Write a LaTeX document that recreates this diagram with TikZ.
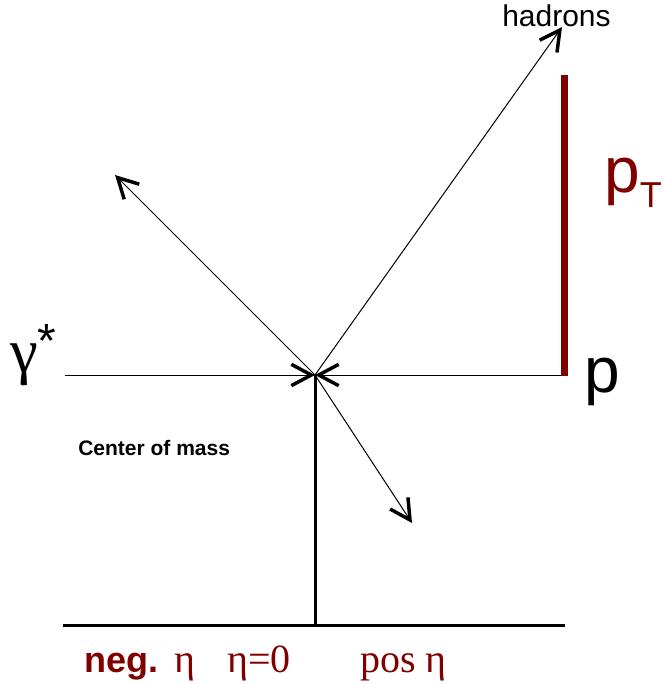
\documentclass[tikz,border=0pt]{standalone}
\usepackage{fontspec}
\setmainfont{Liberation Sans}
\newfontfamily\timesfont{Liberation Serif}
\usetikzlibrary{arrows.meta}
\definecolor{darkred}{RGB}{128,0,0}

\begin{document}
\begin{tikzpicture}[
    x=0.75pt, y=-0.75pt,
    thick line/.style={line width=2.25pt},
    arr/.style={-{Straight Barb[length=15pt,width=16pt,line width=2.6pt]}, line width=0.75pt},
    lbl/.style={inner sep=0pt, anchor=base west},
    bottom/.style={lbl, text=darkred, font=\timesfont\fontsize{30}{30}\selectfont}
  ]
  \useasboundingbox (0,0) rectangle (664,684);

  % ===== points =====
  \coordinate (c)     at (315,375);
  \coordinate (left)  at (65,375);
  \coordinate (right) at (562,375);
  \coordinate (had)   at (562,27);
  \coordinate (ul)    at (115,175);
  \coordinate (lr)    at (412,523);
  \coordinate (foot)  at (315,625);
  \coordinate (bl)    at (63,625);
  \coordinate (br)    at (565,625);
  \coordinate (bartop) at (564,75);
  \coordinate (barbot) at (564,376);

  % ===== labels =====
  \node[lbl, font=\fontsize{22.5}{24}\selectfont] (hadrons) at (502,27) {hadrons};
  \node[lbl, font=\fontsize{47}{50}\selectfont] (gamma) at (10,372) {\timesfont γ\raisebox{11pt}{\normalfont\fontsize{36}{38}\selectfont *}};
  \node[lbl, font=\fontsize{48}{50}\selectfont] (p) at (584,392) {p};
  \node[lbl, font=\fontsize{48}{50}\selectfont, text=darkred] (pt) at (604,193) {p\raisebox{-11pt}{\fontsize{27}{28}\selectfont T}};
  \node[lbl, font=\bfseries\fontsize{15.75}{17}\selectfont] (cm) at (78,455) {Center of mass};

  \node[bottom] (neg) at (84,672) {{\normalfont\bfseries\fontsize{27}{30}\selectfont neg.}\ \,η};
  \node[bottom] (zero) at (227,672) {η=0};
  \node[bottom] (pos) at (360,672) {pos η};

  % ===== lines =====
  \draw[line width=5.25pt, darkred] (barbot) -- (bartop);
  \draw[arr] (left) -- (c);
  \draw[arr] (right) -- (c);
  \draw[arr] (c) -- (had);
  \draw[arr] (c) -- (ul);
  \draw[arr] (c) -- (lr);
  \draw[thick line] (c) -- (foot);
  \draw[thick line] (bl) -- (br);
\end{tikzpicture}
\end{document}
